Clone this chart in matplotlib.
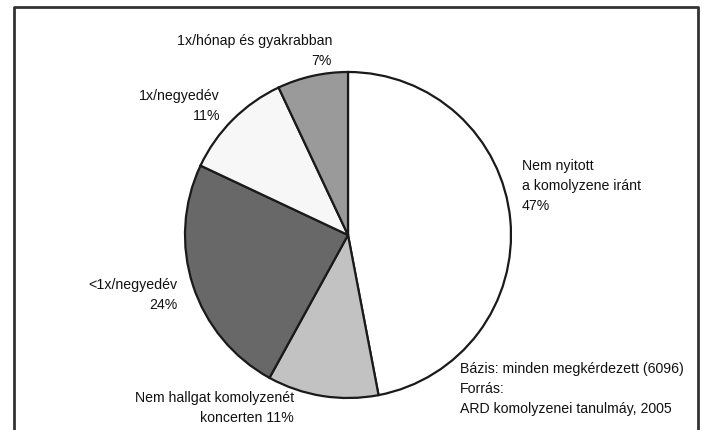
import matplotlib.pyplot as plt
from matplotlib import font_manager

# Data (clockwise from the top)
labels = ["Nem nyitott\na komolyzene iránt\n47%",
          "Nem hallgat komolyzenét\nkoncerten 11%",
          "<1x/negyedév\n24%",
          "1x/negyedév\n11%",
          "1x/hónap és gyakrabban\n7%"]
shares = [47, 11, 24, 11, 7]
colors = ["#ffffff", "#c2c2c2", "#686868", "#f7f7f7", "#9a9a9a"]

note = "Bázis: minden megkérdezett (6096)\nForrás:\nARD komolyzenei tanulmáy, 2005"

names = {f.name for f in font_manager.fontManager.ttflist}
fam = ["Liberation Sans Narrow", "Liberation Sans", "DejaVu Sans"]
fam = [f for f in fam if f in names] + ["DejaVu Sans"]
plt.rcParams["font.family"] = fam

W, H = 702, 431
fig = plt.figure(figsize=(W / 100, H / 100), dpi=100)
ax = fig.add_axes([0, 0, 1, 1])

# pie in pixel-like coordinates (y up)
cx, cy, r = 348, H - 236, 163
ax.pie(shares, colors=colors, startangle=90, counterclock=False,
       center=(cx, cy), radius=r,
       wedgeprops=dict(edgecolor="#1a1a1a", linewidth=1.6))

ax.set_xlim(0, W)
ax.set_ylim(0, H)
ax.set_aspect("auto")
ax.axis("off")

fs = 10.2
# label positions (image pixels) and alignment
pos = [(522, 159, "left"),
       (294, 391, "right"),
       (177, 278, "right"),
       (220, 89, "right"),
       (332, 34, "right")]
for lab, (x, y, ha) in zip(labels, pos):
    ax.text(x, H - y, lab, ha=ha, va="top", fontsize=fs,
            linespacing=1.55, color="#111111")

ax.text(460, H - 362, note, ha="left", va="top", fontsize=fs,
        linespacing=1.55, color="#111111")

# frame around the chart (open at the bottom)
ax.plot([14, 14, 698, 698], [0, H - 8, H - 8, 0], color="#333333",
        linewidth=2, clip_on=False)

fig.savefig("out.png", dpi=100)
